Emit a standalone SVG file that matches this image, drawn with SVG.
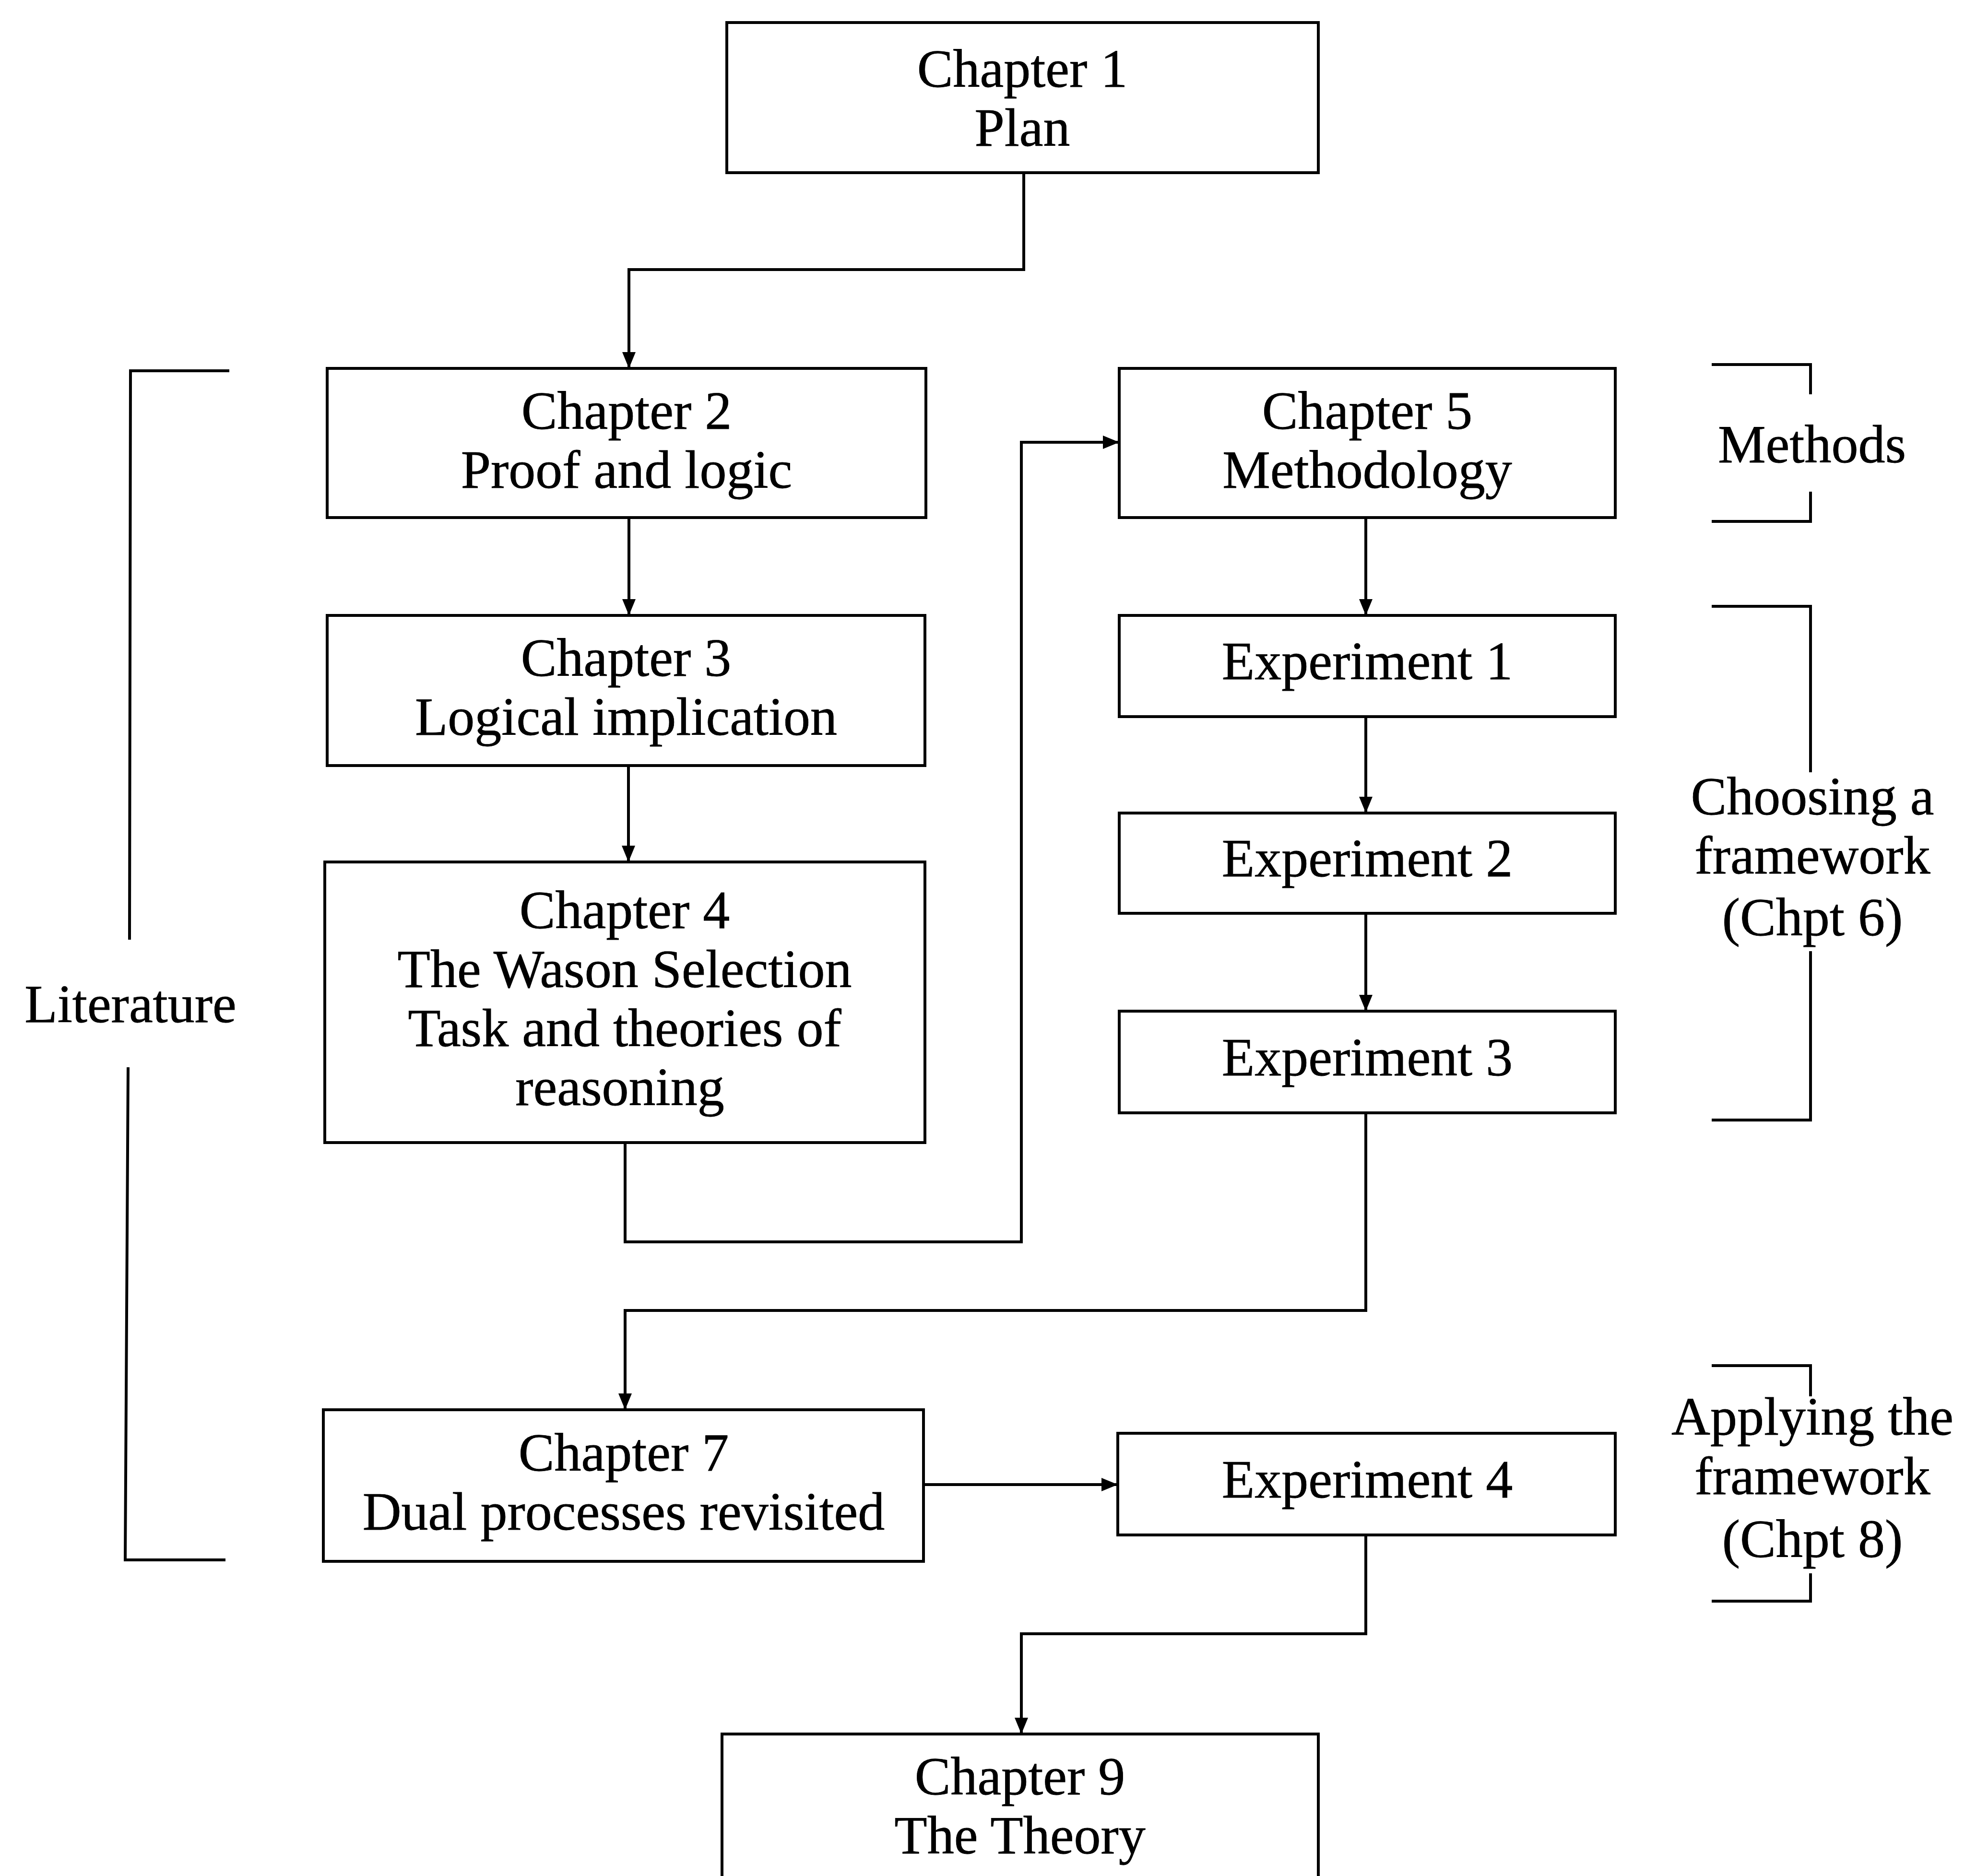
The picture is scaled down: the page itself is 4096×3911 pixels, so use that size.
<svg xmlns="http://www.w3.org/2000/svg" width="4096" height="3911" viewBox="0 0 4096 3911">
  <style>
    .box { fill: #ffffff; stroke: #000000; stroke-width: 6; }
    .wire { fill: none; stroke: #000000; stroke-width: 6; }
    .brace { fill: none; stroke: #000000; stroke-width: 6; }
    text { font-family: "Liberation Serif", "Times New Roman", serif; font-size: 112px; fill: #000000; stroke: #000000; stroke-width: 0.8; text-anchor: middle; }
  </style>
  <defs>
    <marker id="arrow" viewBox="0 0 34 28" refX="34" refY="14" markerWidth="34" markerHeight="28" markerUnits="userSpaceOnUse" orient="auto">
      <path d="M0,0 L34,14 L0,28 z" fill="#000000"/>
    </marker>
  </defs>
  <rect width="4096" height="3911" fill="#ffffff"/>

  <!-- flow connectors -->
  <g id="connectors">
    <path class="wire" d="M2134,360 V562 H1311 V768" marker-end="url(#arrow)"/>
    <path class="wire" d="M1311,1079 V1283" marker-end="url(#arrow)"/>
    <path class="wire" d="M1310,1596 V1797" marker-end="url(#arrow)"/>
    <path class="wire" d="M1303,2382 V2589 H2129 V922 H2333" marker-end="url(#arrow)"/>
    <path class="wire" d="M2847,1079 V1283" marker-end="url(#arrow)"/>
    <path class="wire" d="M2847,1494 V1695" marker-end="url(#arrow)"/>
    <path class="wire" d="M2847,1904 V2108" marker-end="url(#arrow)"/>
    <path class="wire" d="M2847,2320 V2732 H1303 V2939" marker-end="url(#arrow)"/>
    <path class="wire" d="M1925,3095 H2330" marker-end="url(#arrow)"/>
    <path class="wire" d="M2847,3200 V3406 H2129 V3615" marker-end="url(#arrow)"/>
  </g>

  <!-- chapter and experiment boxes -->
  <g id="chapter1">
    <rect class="box" x="1515" y="47" width="1233" height="313"/>
    <text x="2131" y="181">Chapter 1</text>
    <text x="2131" y="304">Plan</text>
  </g>
  <g id="chapter2">
    <rect class="box" x="682" y="768" width="1248" height="311"/>
    <text x="1306" y="894">Chapter 2</text>
    <text x="1306" y="1017">Proof and logic</text>
  </g>
  <g id="chapter3">
    <rect class="box" x="682" y="1283" width="1246" height="313"/>
    <text x="1305" y="1409">Chapter 3</text>
    <text x="1305" y="1532">Logical implication</text>
  </g>
  <g id="chapter4">
    <rect class="box" x="677" y="1797" width="1251" height="585"/>
    <text x="1302" y="1935">Chapter 4</text>
    <text x="1302" y="2058">The Wason Selection</text>
    <text x="1302" y="2181">Task and theories of</text>
    <text x="1292" y="2304">reasoning</text>
  </g>
  <g id="chapter5">
    <rect class="box" x="2333" y="768" width="1034" height="311"/>
    <text x="2850" y="894">Chapter 5</text>
    <text x="2850" y="1017">Methodology</text>
  </g>
  <g id="experiment1">
    <rect class="box" x="2333" y="1283" width="1034" height="211"/>
    <text x="2850" y="1416">Experiment 1</text>
  </g>
  <g id="experiment2">
    <rect class="box" x="2333" y="1695" width="1034" height="209"/>
    <text x="2850" y="1827">Experiment 2</text>
  </g>
  <g id="experiment3">
    <rect class="box" x="2333" y="2108" width="1034" height="212"/>
    <text x="2850" y="2242">Experiment 3</text>
  </g>
  <g id="chapter7">
    <rect class="box" x="674" y="2939" width="1251" height="316"/>
    <text x="1300" y="3066">Chapter 7</text>
    <text x="1300" y="3189">Dual processes revisited</text>
  </g>
  <g id="experiment4">
    <rect class="box" x="2330" y="2988" width="1037" height="212"/>
    <text x="2850" y="3122">Experiment 4</text>
  </g>
  <g id="chapter9">
    <rect class="box" x="1505" y="3615" width="1243" height="320"/>
    <text x="2126" y="3741">Chapter 9</text>
    <text x="2126" y="3864">The Theory</text>
  </g>

  <!-- part brackets -->
  <g id="literature">
    <path class="brace" d="M478,773 H272 L270,1959"/>
    <path class="brace" d="M267,2225 L261,3252 H470"/>
    <text x="272" y="2131">Literature</text>
  </g>
  <g id="methods">
    <path class="brace" d="M3568,760 H3774 V822"/>
    <path class="brace" d="M3774,1025 V1087 H3568"/>
    <text x="3777" y="964">Methods</text>
  </g>
  <g id="choosing">
    <path class="brace" d="M3568,1264 H3774 V1610"/>
    <path class="brace" d="M3774,1983 V2335 H3568"/>
    <text x="3778" y="1698">Choosing a</text>
    <text x="3778" y="1821">framework</text>
    <text x="3778" y="1950">(Chpt 6)</text>
  </g>
  <g id="applying">
    <path class="brace" d="M3568,2847 H3774 V2911"/>
    <path class="brace" d="M3774,3280 V3338 H3568"/>
    <text x="3778" y="2991">Applying the</text>
    <text x="3778" y="3115">framework</text>
    <text x="3778" y="3246">(Chpt 8)</text>
  </g>
</svg>
